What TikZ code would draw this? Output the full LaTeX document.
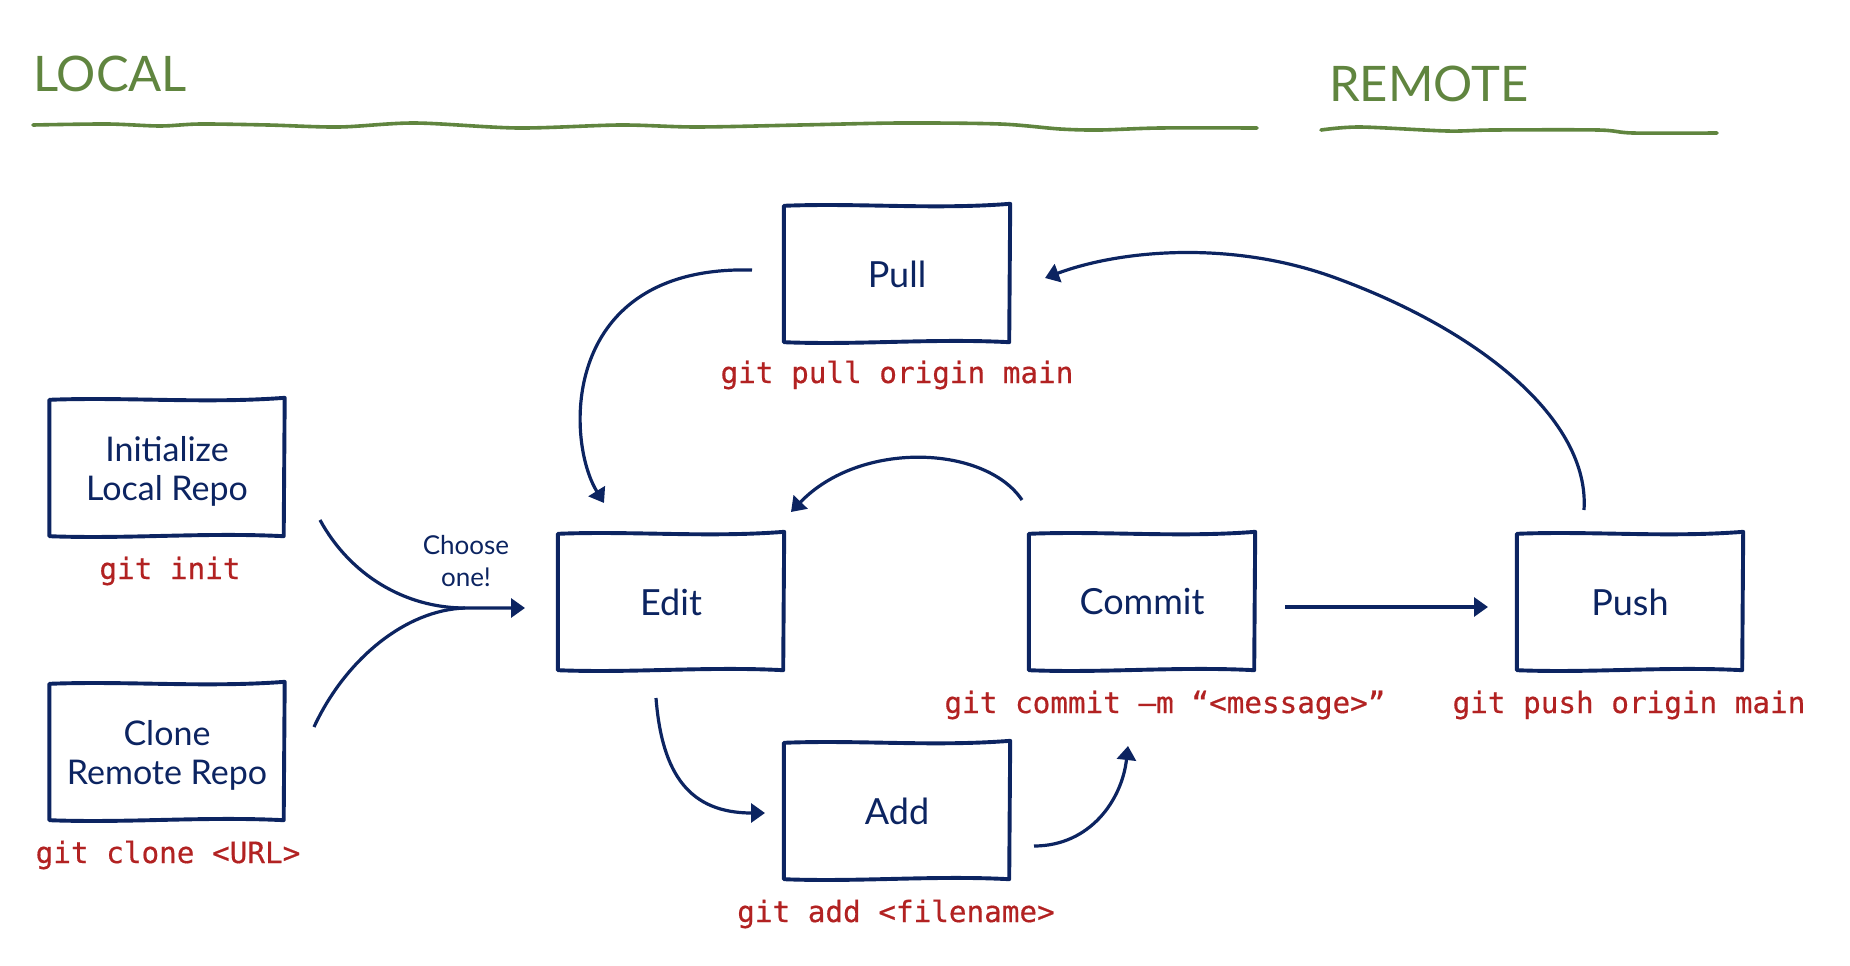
\documentclass[tikz,border=0pt]{standalone}
\usepackage{fontspec}
\setmainfont{Lato}
\newfontfamily\monof[FakeBold=0.5]{DejaVu Sans Mono}
\usetikzlibrary{arrows.meta,calc}
\definecolor{navy}{RGB}{12,36,97}
\definecolor{gitred}{RGB}{178,34,34}
\definecolor{leafgreen}{RGB}{96,133,63}
\tikzset{
 boxline/.style={draw=navy, line width=3.9pt, line join=round},
 stepbox/.style={minimum width=226pt, minimum height=136pt, inner sep=0pt, text=navy, font=\fontsize{36}{40}\selectfont},
 widebox/.style={stepbox, minimum width=235pt, font=\fontsize{34}{39}\selectfont, align=center, text depth=0pt},
 cmd/.style={anchor=base, text=gitred, font=\monof\fontsize{29.3}{33}\selectfont, inner sep=0pt},
 flow/.style={draw=navy, line width=3.2pt, -{Triangle[length=14pt,width=19pt]}},
 plainflow/.style={draw=navy, line width=3.2pt},
 heading/.style={anchor=base west, text=leafgreen, font=\fontsize{49}{55}\selectfont, inner sep=0pt},
 underline/.style={draw=leafgreen, line width=3.6pt, line cap=round},
 note/.style={text=navy, font=\fontsize{26}{32}\selectfont, align=center, inner sep=0pt}
}
\newcommand\skbox[1]{%
 \draw[boxline] (#1.north west)
   .. controls ($(#1.north west)!0.33!(#1.north east)+(0,-3)$) and ($(#1.north west)!0.66!(#1.north east)+(0,4)$) .. ($(#1.north east)+(0,-2)$)
   -- ($(#1.south east)+(-1,0)$)
   .. controls ($(#1.south west)!0.66!(#1.south east)+(0,-4)$) and ($(#1.south west)!0.33!(#1.south east)+(0,3)$) .. (#1.south west)
   -- cycle;}
\begin{document}
\begin{tikzpicture}[x=1pt,y=-1pt]
\useasboundingbox (0,0) rectangle (1850,966);
% headings
\node[heading] (local) at (33,92) {LOCAL};
\node[heading] (remote) at (1329,101) {REMOTE};
\draw[underline] plot[smooth] coordinates {(33,125) (107,124) (160,126) (200,124) (268,125) (339,127) (415,123) (518,128) (620,125) (696,127) (800,125) (900,123) (1000,124) (1060,129) (1100,130) (1160,128) (1257,128)};
\draw[underline] plot[smooth] coordinates {(1321,130) (1360,127) (1447,131) (1493,130) (1598,130) (1633,133) (1717,133)};
% boxes
\node[widebox] (init) at (167,468) {Initialize\\Local Repo};
\node[widebox] (clone) at (167,752) {Clone\\Remote Repo};
\node[stepbox] (edit) at (671,602) {Edit};
\node[stepbox] (pull) at (897,274) {Pull};
\node[stepbox] (add) at (897,811) {Add};
\node[stepbox] (commit) at (1142,602) {Commit};
\node[stepbox] (push) at (1630,602) {Push};
\foreach \b in {init,clone,edit,pull,add,commit,push} {\skbox{\b}}
% commands
\node[cmd] (initcmd) at (170,579) {git init};
\node[cmd] (clonecmd) at (168,863) {git clone <URL>};
\node[cmd] (pullcmd) at (897,383) {git pull origin main};
\node[cmd] (addcmd) at (896,922) {git add <filename>};
\node[cmd] (commitcmd) at (1165,713) {git commit –m “<message>”};
\node[cmd] (pushcmd) at (1629,713) {git push origin main};
% choose
\node[note] (choose) at (466,561) {Choose\\one!};
\coordinate (initOut) at (320,520);
\coordinate (cloneOut) at (314,727);
\coordinate (merge) at (465,608);
\coordinate (editIn) at (525,608);
\draw[flow] (initOut) .. controls (350,575) and (405,608) .. (merge) -- (editIn);
\draw[plainflow] (cloneOut) .. controls (345,660) and (405,610) .. (merge);
% cycle arrows
\coordinate (pullOut) at (752,270);
\coordinate (editTop) at (604,503);
\draw[flow] (pullOut) .. controls (560,265) and (565,440) .. (editTop);
\coordinate (commitOut) at (1022,500);
\coordinate (editTopR) at (791,512);
\draw[flow] (commitOut) .. controls (985,445) and (860,440) .. (editTopR);
\coordinate (editOut) at (656,698);
\coordinate (addIn) at (765,813);
\draw[flow] (editOut) .. controls (662,775) and (690,813) .. (addIn);
\coordinate (addOut) at (1034,846);
\coordinate (commitIn) at (1128,746);
\draw[flow] (addOut) .. controls (1090,846) and (1122,800) .. (commitIn);
\coordinate (commitR) at (1285,607);
\coordinate (pushIn) at (1488,607);
\draw[flow] (commitR) -- (pushIn);
\coordinate (pushOut) at (1584,510);
\coordinate (arcTop) at (1333,277);
\coordinate (pullIn) at (1045,278);
\draw[flow] (pushOut) .. controls (1590,420) and (1480,330) .. (arcTop) .. controls (1230,240) and (1120,250) .. (pullIn);
\end{tikzpicture}
\end{document}
